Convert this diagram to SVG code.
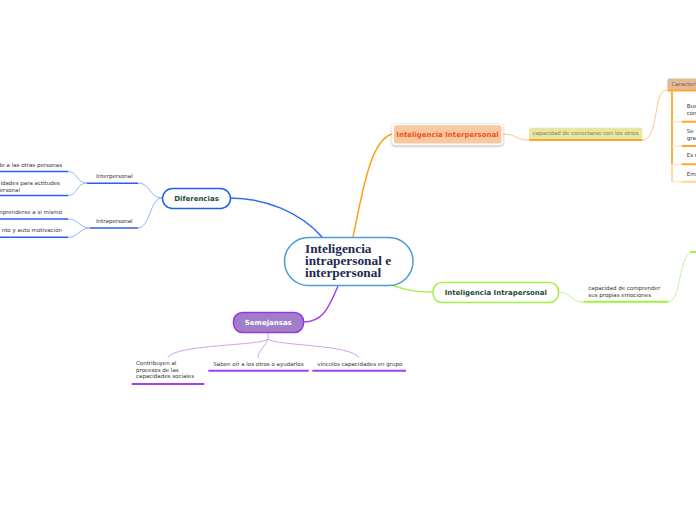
<svg xmlns="http://www.w3.org/2000/svg" width="696" height="520" viewBox="0 0 696 520">
<defs>
<filter id="sh" x="-10%" y="-30%" width="120%" height="160%">
<feDropShadow dx="0" dy="1" stdDeviation="1" flood-color="#000" flood-opacity="0.35"/>
</filter>
<style>
.t{font-family:"DejaVu Sans",Verdana,sans-serif;font-size:5.5px;fill:#333}
.b{font-family:"DejaVu Sans",Verdana,sans-serif;font-size:7px;font-weight:bold}
.c{font-family:"Liberation Serif","Times New Roman",serif;font-size:13.3px;font-weight:bold;fill:#1b2a4e}
.cb{fill:none;stroke:#2f6cf0;stroke-width:1.5}
.lb{fill:none;stroke:#94b3f8;stroke-width:1}
.co{fill:none;stroke:#ff9f1a;stroke-width:1.5}
.lo{fill:none;stroke:#fcc78a;stroke-width:1}
.cg{fill:none;stroke:#a3f048;stroke-width:1.5}
.lg{fill:none;stroke:#c4f590;stroke-width:1}
.cp{fill:none;stroke:#a445f0;stroke-width:1.5}
.lp{fill:none;stroke:#cf9ff6;stroke-width:1}
.ub{stroke:#2a5fe8;stroke-width:1.6}
.uo{stroke:#ffa530;stroke-width:2}
.ug{stroke:#a0f040;stroke-width:2}
.up{stroke:#a23ff0;stroke-width:2}
</style>
</defs>
<rect width="696" height="520" fill="#fff"/>

<g id="connectors">
<path class="cb" d="M230,198 C265,198 300,212 322,237"/>
<path class="co" d="M353,237 C362,195 370,140 392,134"/>
<path class="cg" d="M392,285 C405,290 415,292 433,292"/>
<path class="cp" d="M338,286 C328,310 322,322 303,322"/>
<path class="lb" d="M162,198 C150,198 150,183 138,183"/>
<path class="lb" d="M162,198 C150,198 150,228 138,228"/>
<path class="lb" d="M87,183 C76,183 78,171.5 68,171.5"/>
<path class="lb" d="M87,183 C76,183 78,195.5 68,195.5"/>
<path class="lb" d="M90,228 C79,228 79,219 68,219"/>
<path class="lb" d="M90,228 C79,228 79,237.3 68,237.3"/>
<path class="lo" d="M503,134 C516,134 516,140 529,140"/>
<path class="lo" d="M642,140 C660,140 652,90 667,90"/>
<path class="lg" d="M558,292 C572,292 570,302 583,302"/>
<path class="lg" d="M668,302 C682,302 678,252 693,252 L696,252"/>
<path class="lp" d="M268,332 L268,339 C262,346 175,344 168,357.5"/>
<path class="lp" d="M268,339 C266,346 258,350 258,358"/>
<path class="lp" d="M268,339 C275,346 352,344 359,358"/>
</g>

<g id="central">
<rect x="284.5" y="237.5" width="128.5" height="48" rx="24" fill="#fff" stroke="#4b9cd6" stroke-width="1.5"/>
<text class="c" x="305" y="252.5">Inteligencia</text>
<text class="c" x="305" y="264.5">intrapersonal e</text>
<text class="c" x="305" y="276.5">interpersonal</text>
</g>

<g id="diferencias">
<rect x="162.5" y="188.5" width="68" height="20" rx="10" fill="#fff" stroke="#2060e8" stroke-width="1.5"/>
<text class="b" x="196.5" y="201" text-anchor="middle" fill="#1a4a3a">Diferencias</text>
</g>

<g id="interpersonal-dif">
<line class="ub" x1="87" y1="183.3" x2="138" y2="183.3"/>
<text class="t" x="96" y="178.3">Interpersonal</text>
</g>
<g id="intrapersonal-dif">
<line class="ub" x1="90" y1="228" x2="138" y2="228"/>
<text class="t" x="96" y="223.3">Intrapersonal</text>
</g>
<g id="leaf-1">
<line class="ub" x1="0" y1="171.5" x2="68" y2="171.5"/>
<text class="t" x="62" y="166.5" text-anchor="end">de a las otras personas</text>
</g>
<g id="leaf-2">
<line class="ub" x1="0" y1="195.5" x2="68" y2="195.5"/>
<text class="t" x="60" y="184.8" text-anchor="end">idades para actitudes</text>
<text class="t" x="20" y="191.5" text-anchor="end">ersonal</text>
</g>
<g id="leaf-3">
<line class="ub" x1="0" y1="219" x2="68" y2="219"/>
<text class="t" x="62" y="214" text-anchor="end">nprenderse a si mismo</text>
</g>
<g id="leaf-4">
<line class="ub" x1="0" y1="237.3" x2="68" y2="237.3"/>
<text class="t" x="62" y="232.3" text-anchor="end">nto y auto motivación</text>
</g>

<g id="inteligencia-interpersonal">
<rect x="392" y="123.5" width="111" height="21.5" rx="3" fill="#fff" stroke="#e4e4e4" stroke-width="0.5" filter="url(#sh)"/>
<rect x="394" y="125.2" width="107.5" height="18.2" rx="2" fill="#f8c9a0"/>
<text class="b" x="447.5" y="136.6" text-anchor="middle" fill="#f2501a">Inteligencia Interpersonal</text>
</g>

<g id="capacidad-conectarse">
<rect x="529" y="127.7" width="113.3" height="12.3" rx="2" fill="#e9e6a2"/>
<line class="uo" x1="529" y1="140" x2="642.3" y2="140"/>
<text class="t" x="532.7" y="134.6" fill="#858060" style="fill:#858060">capacidad de conectarse con los otros</text>
</g>

<g id="caracteristicas">
<rect x="667.3" y="78.5" width="40" height="11.5" rx="2" fill="#e3bb98"/>
<line class="uo" x1="667.3" y1="90.5" x2="696" y2="90.5"/>
<text class="t" x="671.5" y="86.2" style="fill:#7a5c44">Caracterí</text>
<line x1="672" y1="90" x2="672" y2="164.3" stroke="#fbb040" stroke-width="2"/>
<line x1="672" y1="164.3" x2="672" y2="182" stroke="#fddcac" stroke-width="2"/>
<line x1="672" y1="121.7" x2="696" y2="121.7" stroke="#fde0b8" stroke-width="1"/>
<line x1="672" y1="146" x2="696" y2="146" stroke="#fde0b8" stroke-width="1"/>
<line x1="672" y1="164.3" x2="696" y2="164.3" stroke="#fde0b8" stroke-width="1"/>
<line x1="672" y1="181.7" x2="696" y2="181.7" stroke="#fde0b8" stroke-width="1"/>
</g>
<g id="car-1">
<line class="uo" x1="681.7" y1="121.7" x2="696" y2="121.7"/>
<text class="t" x="686.7" y="108.3">Bue</text>
<text class="t" x="686.7" y="115">con</text>
</g>
<g id="car-2">
<line class="uo" x1="681.7" y1="146" x2="696" y2="146"/>
<text class="t" x="686.7" y="133.3">Se</text>
<text class="t" x="686.7" y="140">gra</text>
</g>
<g id="car-3">
<line class="uo" x1="681.7" y1="164.3" x2="696" y2="164.3"/>
<text class="t" x="686.7" y="157.3">Es r</text>
</g>
<g id="car-4">
<line x1="681.7" y1="181.7" x2="696" y2="181.7" stroke="#fdd3a0" stroke-width="2"/>
<text class="t" x="686.7" y="176">Emp</text>
</g>

<g id="inteligencia-intrapersonal">
<rect x="433" y="282.5" width="125.5" height="20" rx="9" fill="#fff" stroke="#a4f04a" stroke-width="1.5"/>
<text class="b" x="495.8" y="295.3" text-anchor="middle" fill="#1c4a3a">Inteligencia Intrapersonal</text>
</g>
<g id="capacidad-comprender">
<line class="ug" x1="583.3" y1="301.7" x2="668.3" y2="301.7"/>
<text class="t" x="588.3" y="290">capacidad de comprender</text>
<text class="t" x="588.3" y="296.5">sus propias emociones</text>
</g>
<g id="intra-child">
<line class="ug" x1="690" y1="252" x2="696" y2="252"/>
</g>

<g id="semejansas">
<rect x="233.5" y="312.5" width="70" height="20" rx="9" fill="#a17fc8" stroke="#9a35ea" stroke-width="1.5"/>
<text class="b" x="268.3" y="324.6" text-anchor="middle" fill="#fff">Semejansas</text>
</g>
<g id="sem-1">
<line class="up" x1="131.7" y1="384" x2="204.3" y2="384"/>
<text class="t" x="136" y="365.3">Contribuyen al</text>
<text class="t" x="136" y="371.7">procesos de las</text>
<text class="t" x="136" y="378">capacidades sociales</text>
</g>
<g id="sem-2">
<line class="up" x1="208.3" y1="370.7" x2="308.7" y2="370.7"/>
<text class="t" x="213.3" y="365.5">Saben oír a los otros o ayudarlos</text>
</g>
<g id="sem-3">
<line class="up" x1="312.3" y1="370.7" x2="406" y2="370.7"/>
<text class="t" x="317.3" y="365.5">vínculos capacidades en grupo</text>
</g>
</svg>
